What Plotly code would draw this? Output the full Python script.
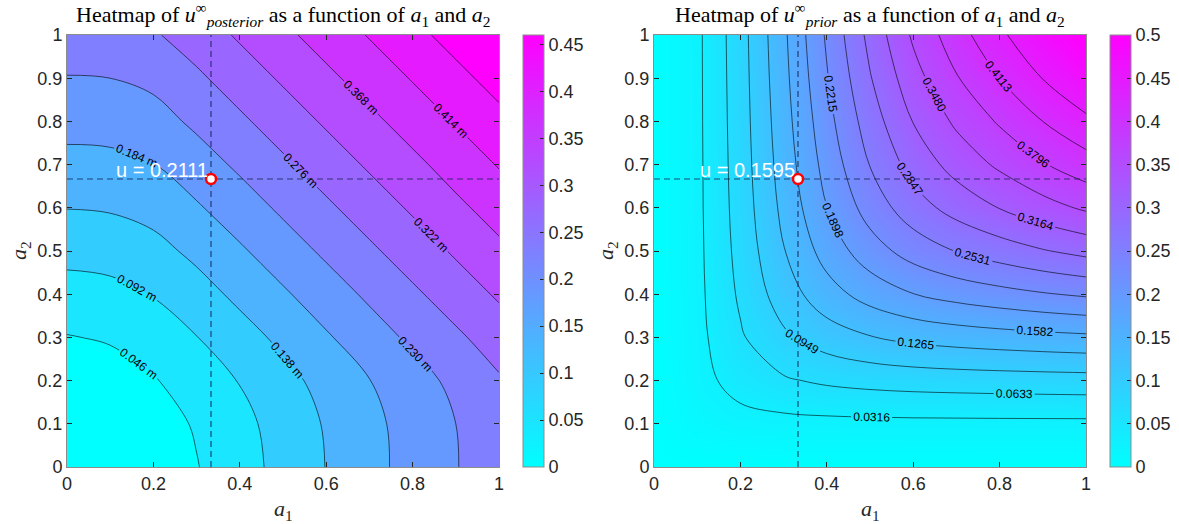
import plotly.graph_objects as go

# ---------------- data ----------------
a1_vals = [0.0, 0.1, 0.2, 0.3, 0.4, 0.5, 0.6, 0.7, 0.8, 0.9, 1.0]
a2_vals = [0.0, 0.1, 0.2, 0.3, 0.4, 0.5, 0.6, 0.7, 0.8, 0.9, 1.0]

# rows = a2 (0 -> 1), columns = a1 (0 -> 1)
u_posterior = [
    [0.000, 0.007, 0.022, 0.044, 0.074, 0.106, 0.139, 0.170, 0.200, 0.228, 0.257],
    [0.007, 0.013, 0.028, 0.050, 0.079, 0.110, 0.142, 0.172, 0.202, 0.230, 0.259],
    [0.022, 0.028, 0.043, 0.066, 0.094, 0.123, 0.154, 0.183, 0.212, 0.241, 0.271],
    [0.044, 0.050, 0.066, 0.091, 0.119, 0.149, 0.179, 0.209, 0.239, 0.268, 0.298],
    [0.074, 0.079, 0.094, 0.119, 0.149, 0.178, 0.208, 0.238, 0.268, 0.298, 0.328],
    [0.106, 0.110, 0.123, 0.149, 0.178, 0.208, 0.238, 0.268, 0.298, 0.328, 0.358],
    [0.139, 0.142, 0.154, 0.179, 0.208, 0.238, 0.268, 0.298, 0.328, 0.358, 0.387],
    [0.170, 0.172, 0.183, 0.209, 0.238, 0.268, 0.298, 0.328, 0.357, 0.387, 0.417],
    [0.200, 0.202, 0.212, 0.239, 0.268, 0.298, 0.328, 0.357, 0.387, 0.417, 0.447],
    [0.228, 0.230, 0.241, 0.268, 0.298, 0.328, 0.358, 0.387, 0.417, 0.447, 0.477],
    [0.257, 0.259, 0.271, 0.298, 0.328, 0.358, 0.387, 0.417, 0.447, 0.477, 0.507],
]

u_prior = [
    [0.0, 0.0000, 0.0000, 0.0000, 0.0000, 0.0000, 0.0000, 0.0000, 0.0000, 0.0000, 0.0000],
    [0.0, 0.0128, 0.0198, 0.0223, 0.0234, 0.0240, 0.0244, 0.0245, 0.0247, 0.0248, 0.0249],
    [0.0, 0.0198, 0.0447, 0.0596, 0.0683, 0.0735, 0.0767, 0.0786, 0.0800, 0.0811, 0.0821],
    [0.0, 0.0223, 0.0596, 0.0895, 0.1108, 0.1250, 0.1345, 0.1406, 0.1451, 0.1489, 0.1520],
    [0.0, 0.0234, 0.0683, 0.1108, 0.1454, 0.1709, 0.1892, 0.2015, 0.2108, 0.2190, 0.2259],
    [0.0, 0.0240, 0.0735, 0.1250, 0.1709, 0.2073, 0.2348, 0.2541, 0.2691, 0.2826, 0.2941],
    [0.0, 0.0244, 0.0767, 0.1345, 0.1892, 0.2348, 0.2707, 0.2967, 0.3173, 0.3362, 0.3527],
    [0.0, 0.0245, 0.0786, 0.1406, 0.2015, 0.2541, 0.2967, 0.3282, 0.3536, 0.3773, 0.3981],
    [0.0, 0.0247, 0.0800, 0.1451, 0.2108, 0.2691, 0.3173, 0.3536, 0.3833, 0.4113, 0.4362],
    [0.0, 0.0248, 0.0811, 0.1489, 0.2190, 0.2826, 0.3362, 0.3773, 0.4113, 0.4437, 0.4728],
    [0.0, 0.0249, 0.0821, 0.1520, 0.2259, 0.2941, 0.3527, 0.3981, 0.4362, 0.4728, 0.5060],
]

post_level_start, post_level_end, post_level_step = 0.046, 0.460, 0.046
prior_level_start, prior_level_end, prior_level_step = 0.031636, 0.4745, 0.031636

opt_a1 = [1 / 3]
opt_a2 = [2 / 3]
u_post_opt = 0.2111
u_prior_opt = 0.1595

post_cbar_max = 0.46
prior_cbar_max = 0.5
post_cbar_ticks = [0, 0.05, 0.1, 0.15, 0.2, 0.25, 0.3, 0.35, 0.4, 0.45]
prior_cbar_ticks = [0, 0.05, 0.1, 0.15, 0.2, 0.25, 0.3, 0.35, 0.4, 0.45, 0.5]
x_ticks = [0, 0.2, 0.4, 0.6, 0.8, 1]
y_ticks = [0, 0.1, 0.2, 0.3, 0.4, 0.5, 0.6, 0.7, 0.8, 0.9, 1]
axis_span = [0, 1]

# ---------------- styling ----------------
W, H = 1179, 524
COOL = [[0, "rgb(0,255,255)"], [1, "rgb(255,0,255)"]]
SANS = "Liberation Sans, Arial, Helvetica, sans-serif"
SERIF = "Liberation Serif, Times New Roman, serif"
TXT = "#262626"
DASH_COLOR = "rgba(20,35,80,0.8)"

L_X = [67 / W, 499 / W]
R_X = [654 / W, 1086 / W]
Y_DOM = [(H - 467) / H, (H - 35) / H]
CB_LEN = (Y_DOM[1] - Y_DOM[0])
CB_Y = (Y_DOM[0] + Y_DOM[1]) / 2

fig = go.Figure()

# left: filled contour (bands); its own colorbar sits hidden under the visible one
# and only supplies the " m" suffix used by the contour labels
fig.add_trace(go.Contour(
    x=a1_vals, y=a2_vals, z=u_posterior,
    xaxis="x", yaxis="y",
    colorscale=COOL, autocontour=False,
    contours=dict(start=post_level_start, end=post_level_end, size=post_level_step,
                  coloring="fill", showlabels=True,
                  labelfont=dict(family=SANS, size=12, color="black")),
    line=dict(color="black", width=0.6, smoothing=1),
    showscale=True,
    colorbar=dict(x=523 / W, xanchor="left", xpad=0, ypad=0, thickness=21,
                  len=CB_LEN, y=CB_Y, yanchor="middle", tickformat=".3f",
                  ticksuffix=" m", ticks="", outlinewidth=0,
                  ticklabelposition="inside", nticks=3,
                  tickfont=dict(color="rgba(0,0,0,0)", size=6)),
    hoverinfo="skip",
))

# continuous colorbar for left panel
fig.add_trace(go.Scatter(
    x=opt_a1, y=opt_a2, xaxis="x", yaxis="y", mode="markers",
    marker=dict(size=1, opacity=0, color=[0], colorscale=COOL, cmin=0, cmax=post_cbar_max,
                showscale=True,
                colorbar=dict(x=523 / W, xanchor="left", xpad=0, ypad=0, thickness=21,
                              len=CB_LEN, y=CB_Y, yanchor="middle",
                              tickvals=post_cbar_ticks, ticks="inside", ticklen=4,
                              tickcolor=TXT, outlinewidth=1, outlinecolor="#8c8c8c",
                              tickfont=dict(family=SANS, size=18, color=TXT))),
    hoverinfo="skip", showlegend=False,
))

# right: smooth heatmap + contour lines
fig.add_trace(go.Heatmap(
    x=a1_vals, y=a2_vals, z=u_prior, xaxis="x2", yaxis="y2",
    zsmooth="best", colorscale=COOL, zmin=0, zmax=prior_cbar_max,
    colorbar=dict(x=1110 / W, xanchor="left", xpad=0, ypad=0, thickness=21,
                  len=CB_LEN, y=CB_Y, yanchor="middle",
                  tickvals=prior_cbar_ticks, ticks="inside", ticklen=4,
                  tickcolor=TXT, outlinewidth=1, outlinecolor="#8c8c8c",
                  tickfont=dict(family=SANS, size=18, color=TXT)),
    hoverinfo="skip",
))
fig.add_trace(go.Contour(
    x=a1_vals, y=a2_vals, z=u_prior, xaxis="x2", yaxis="y2",
    autocontour=False,
    contours=dict(start=prior_level_start, end=prior_level_end, size=prior_level_step,
                  coloring="none", showlabels=True, labelformat=".4f",
                  labelfont=dict(family=SANS, size=12, color="black")),
    line=dict(color="black", width=0.6, smoothing=1),
    showscale=False, hoverinfo="skip",
))

# crosshairs, markers
for xa, ya in (("x", "y"), ("x2", "y2")):
    fig.add_trace(go.Scatter(x=opt_a1 * 2, y=axis_span, xaxis=xa, yaxis=ya, mode="lines",
                             line=dict(color=DASH_COLOR, width=1.2, dash="6px,4px"),
                             hoverinfo="skip", showlegend=False))
    fig.add_trace(go.Scatter(x=axis_span, y=opt_a2 * 2, xaxis=xa, yaxis=ya, mode="lines",
                             line=dict(color=DASH_COLOR, width=1.2, dash="6px,4px"),
                             hoverinfo="skip", showlegend=False))
    fig.add_trace(go.Scatter(x=opt_a1, y=opt_a2, xaxis=xa, yaxis=ya, mode="markers",
                             marker=dict(size=10, color="white",
                                         line=dict(color="red", width=2.5)),
                             hoverinfo="skip", showlegend=False))

axis_common = dict(range=axis_span, showgrid=False, zeroline=False, ticks="inside",
                   ticklen=5, tickcolor=TXT, showline=True, linecolor="#8c8c8c",
                   linewidth=1, mirror="ticks",
                   tickfont=dict(family=SANS, size=18, color=TXT))

fig.update_layout(
    width=W, height=H, margin=dict(l=0, r=0, t=0, b=0, autoexpand=False),
    paper_bgcolor="white", plot_bgcolor="white", showlegend=False,
    xaxis=dict(domain=L_X, anchor="y", tickvals=x_ticks, **axis_common),
    yaxis=dict(domain=Y_DOM, anchor="x", tickvals=y_ticks, **axis_common),
    xaxis2=dict(domain=R_X, anchor="y2", tickvals=x_ticks, **axis_common),
    yaxis2=dict(domain=Y_DOM, anchor="x2", tickvals=y_ticks, **axis_common),
)

ann = []
titles = [
    ("Heatmap of <i>u</i><sup>∞</sup><sub><i>posterior</i></sub> as a function of "
     "<i>a</i><sub>1</sub> and <i>a</i><sub>2</sub>", L_X),
    ("Heatmap of <i>u</i><sup>∞</sup><sub><i>prior</i></sub> as a function of "
     "<i>a</i><sub>1</sub> and <i>a</i><sub>2</sub>", R_X),
]
for t, dom in titles:
    ann.append(dict(text=t, x=(dom[0] + dom[1]) / 2, y=(H - 15) / H, xref="paper", yref="paper",
                    showarrow=False, xanchor="center", yanchor="middle",
                    font=dict(family=SERIF, size=22, color="black")))
for dom in (L_X, R_X):
    ann.append(dict(text="<i>a</i><sub>1</sub>", x=(dom[0] + dom[1]) / 2, y=(H - 510) / H,
                    xref="paper", yref="paper", showarrow=False, xanchor="center",
                    yanchor="middle", font=dict(family=SERIF, size=22, color=TXT)))
    ann.append(dict(text="<i>a</i><sub>2</sub>", x=(dom[0] * W - 47) / W, y=CB_Y,
                    xref="paper", yref="paper", showarrow=False, xanchor="center",
                    yanchor="middle", textangle=-90,
                    font=dict(family=SERIF, size=22, color=TXT)))
for xr, yr, val in (("x", "y", u_post_opt), ("x2", "y2", u_prior_opt)):
    ann.append(dict(text=f"u = {val:.4f}", x=opt_a1[0], y=opt_a2[0], xref=xr, yref=yr,
                    showarrow=False, xanchor="right", yanchor="bottom", xshift=-1, yshift=-4,
                    font=dict(family=SANS, size=20, color="white")))
fig.update_layout(annotations=ann)

fig.write_html("out.html", config={"displayModeBar": False},
               post_script="document.body.style.margin='0';")
